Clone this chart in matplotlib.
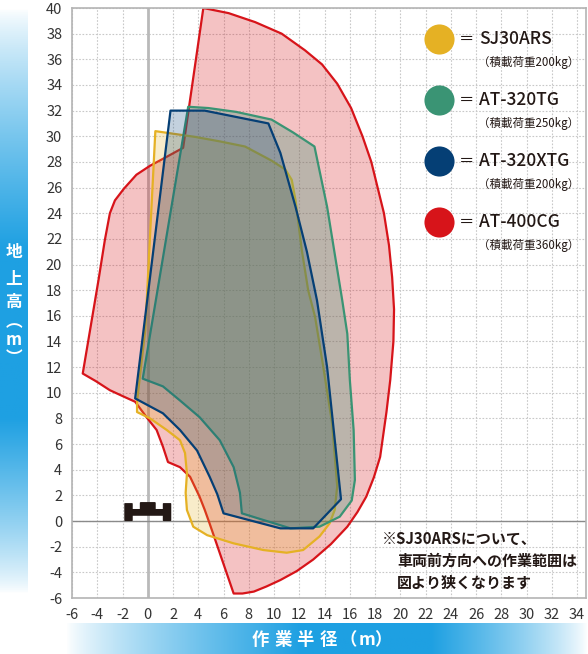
import numpy as np
import matplotlib
matplotlib.use('Agg')
import matplotlib.pyplot as plt
from matplotlib.patches import Polygon, FancyBboxPatch

plt.rcParams['font.family'] = ['Noto Sans CJK JP', 'DejaVu Sans']

# outlines of the working ranges (radius m, height m)
red_x = [4.4, 6.4, 8.5, 10.6, 12.45, 13.8, 15.0, 16.1, 17.0, 17.7, 18.2, 18.7, 19.1, 19.35,
         19.5, 19.45, 19.2, 18.9, 18.4, 17.9, 17.3, 16.6, 15.8, 14.5, 13.1, 11.8, 10.5, 9.4,
         8.4, 7.5, 6.8, 4.9, 4.5, 4.1, 3.35, 2.55, 1.6, 1.5, 1.2, 0.7, -0.1, -1.0, -1.9,
         -3.0, -4.1, -5.15, -3.9, -3.4, -3.0, -2.6, -1.9, -0.9, 0.18, 1.5, 2.8]
red_y = [40.0, 39.6, 38.9, 38.0, 36.7, 35.6, 34.1, 32.2, 30.0, 28.0, 26.0, 24.0, 21.5, 19.0,
         16.5, 14.0, 11.0, 8.5, 5.0, 3.4, 1.9, 0.7, -0.44, -1.8, -3.0, -3.9, -4.6, -5.1,
         -5.5, -5.65, -5.65, -0.2, 0.9, 1.9, 3.45, 4.2, 4.6, 4.9, 5.8, 7.1, 8.1, 9.3, 9.7,
         10.2, 10.9, 11.5, 18.8, 21.9, 24.0, 25.0, 25.9, 27.0, 27.7, 28.4, 29.1]

yel_x = [0.6, 3.75, 5.7, 7.7, 9.8, 10.9, 11.4, 11.7, 12.2, 12.7, 13.25, 13.9, 14.6, 15.0,
         14.8, 14.4, 13.6, 12.3, 11.0, 9.15, 6.8, 4.7, 3.6, 3.1, 3.0, 3.1, 2.95, 2.55, 1.5,
         0.18, -0.85, -0.85, -0.2]
yel_y = [30.4, 29.95, 29.6, 29.2, 28.1, 27.4, 26.6, 25.0, 21.1, 18.0, 15.9, 12.0, 7.6, 2.7,
         0.86, -0.18, -1.2, -2.26, -2.47, -2.26, -1.74, -1.1, -0.44, 0.86, 2.2, 3.7, 5.3, 6.3,
         7.1, 8.0, 8.5, 9.3, 14.9]

grn_x = [3.2, 4.8, 7.0, 9.8, 11.5, 13.2, 14.2, 15.4, 15.8, 16.0, 16.3, 16.4, 16.15, 15.2,
         13.6, 11.3, 7.45, 7.3, 6.8, 5.7, 4.1, 2.55, 1.2, -0.4]
grn_y = [32.3, 32.2, 31.9, 31.3, 30.3, 29.2, 24.5, 17.2, 14.6, 11.0, 7.1, 3.2, 1.6, 0.34,
         -0.44, -0.57, 0.6, 2.2, 4.2, 6.3, 8.1, 9.4, 10.5, 11.1]

blu_x = [1.8, 4.5, 9.55, 10.5, 11.7, 12.6, 13.4, 14.2, 15.3, 13.1, 10.5, 6.0, 5.5, 4.9,
         3.9, 2.55, 1.2, -1.0]
blu_y = [32.0, 32.0, 31.0, 28.7, 24.5, 21.0, 17.2, 12.0, 1.7, -0.57, -0.57, 0.6, 2.1, 3.45,
         5.5, 7.1, 8.4, 9.56]

names = ['SJ30ARS', 'AT-320TG', 'AT-320XTG', 'AT-400CG']
loads = ['（積載荷重200kg）', '（積載荷重250kg）', '（積載荷重200kg）', '（積載荷重360kg）']
colors = ['#e5b124', '#3a9474', '#053f75', '#d7141a']
xticks = np.arange(-6, 35, 2)
yticks = np.arange(-6, 41, 2)

fig = plt.figure(figsize=(5.88, 6.54), dpi=100)
ax = fig.add_axes([72/588, 1-598/654, 514/588, 590/654])
ax.set_xlim(-6, 34.7)
ax.set_ylim(-6, 40)

ax.set_xticks(xticks)
ax.set_yticks(yticks)
ax.set_xticklabels([str(v) for v in xticks])
ax.set_yticklabels([str(v) for v in yticks])
ax.tick_params(length=0, labelsize=10.5, labelcolor='#333333', pad=7)
ax.grid(True, color='#c8c8c8', linestyle=(0, (1.5, 1.5)), linewidth=0.8)
ax.set_axisbelow(True)
for s in ax.spines.values():
    s.set_color('#b4b4b4')
    s.set_linewidth(1.2)
ax.axvline(0, color='#b9b9b9', lw=2, zorder=1)
ax.axhline(0, color='#8a8a8a', lw=1, zorder=1)

# fills + outlines, red at the back
shapes = [(red_x, red_y, colors[3], 0.26),
          (yel_x, yel_y, colors[0], 0.24),
          (grn_x, grn_y, colors[1], 0.30),
          (blu_x, blu_y, colors[2], 0.24)]
for i, (xs, ys, c, a) in enumerate(shapes):
    pts = np.column_stack([xs, ys])
    ax.add_patch(Polygon(pts, closed=True, facecolor=c, alpha=a, edgecolor='none', zorder=2+i))
    ax.add_patch(Polygon(pts, closed=True, facecolor='none', edgecolor=c, lw=1.6, zorder=2+i,
                         joinstyle='round'))

# little vehicle icon at the origin
car = '#231815'
ax.add_patch(FancyBboxPatch((-1.25, 0.45), 2.5, 0.45, boxstyle='round,pad=0.04', fc=car, ec='none', zorder=10))
ax.add_patch(FancyBboxPatch((-0.55, 0.8), 1.1, 0.6, boxstyle='round,pad=0.08', fc=car, ec='none', zorder=10))
for wx in (-1.8, 1.25):
    ax.add_patch(FancyBboxPatch((wx, 0.06), 0.55, 1.28, boxstyle='round,pad=0.06', fc=car, ec='none', zorder=11))

# legend
for i in range(4):
    yy = 0.947 - i * 0.1034
    ax.scatter([0.714], [yy], s=470, color=colors[i], transform=ax.transAxes, zorder=12,
               clip_on=False, linewidths=0)
    ax.text(0.752, yy, '＝', transform=ax.transAxes, fontsize=11, color='#231815', va='center', zorder=12)
    ax.text(0.792, yy, names[i], transform=ax.transAxes, fontsize=12.5, color='#231815',
            va='center', fontweight='medium', zorder=12)
    ax.text(0.79, yy - 0.04, loads[i], transform=ax.transAxes, fontsize=8.3, color='#231815',
            va='center', zorder=12)

# note
ax.text(0.603, 0.1, '※SJ30ARSについて、', transform=ax.transAxes, fontsize=10.8, color='#231815',
        fontweight='bold', va='center', zorder=12)
ax.text(0.632, 0.0627, '車両前方向への作業範囲は', transform=ax.transAxes, fontsize=10.8,
        color='#231815', fontweight='bold', va='center', zorder=12)
ax.text(0.632, 0.0254, '図より狭くなります', transform=ax.transAxes, fontsize=10.8,
        color='#231815', fontweight='bold', va='center', zorder=12)

# gradient bands for axis titles
blue = np.array([30, 160, 226]) / 255.0
def band(n, lo, hi):
    t = np.linspace(0, 1, n)
    w = np.where(t < lo, t / lo, np.where(t > hi, (1 - t) / (1 - hi), 1.0))
    w = np.clip(w, 0, 1) ** 0.8
    return (1 - w)[:, None] * 1.0 + w[:, None] * blue

lax = fig.add_axes([0, 1-594/654, 28/588, 586/654])
lax.imshow(band(300, 0.41, 0.70)[:, None, :], aspect='auto', extent=[0, 1, 0, 1])
lax.axis('off')
ychars = ['地', '上', '高', '︵', 'm', '︶']
ypos = [252, 279, 302, 322, 340, 358]
for ch, yp in zip(ychars, ypos):
    fig.text(14/588, 1-yp/654, ch, color='white', fontsize=12, fontweight='bold',
             ha='center', va='center')

bax = fig.add_axes([66/588, 0, 522/588, 31/654])
bax.imshow(band(400, 0.45, 0.70)[None, :, :], aspect='auto', extent=[0, 1, 0, 1])
bax.axis('off')
xchars = ['作', '業', '半', '径', '（', 'm', '）']
xpos = [260, 283, 305, 328, 348, 367, 383]
for ch, xp in zip(xchars, xpos):
    fig.text(xp/588, 1-640/654, ch, color='white', fontsize=12.5, fontweight='bold',
             ha='center', va='center')

fig.savefig('out.png', dpi=100)
